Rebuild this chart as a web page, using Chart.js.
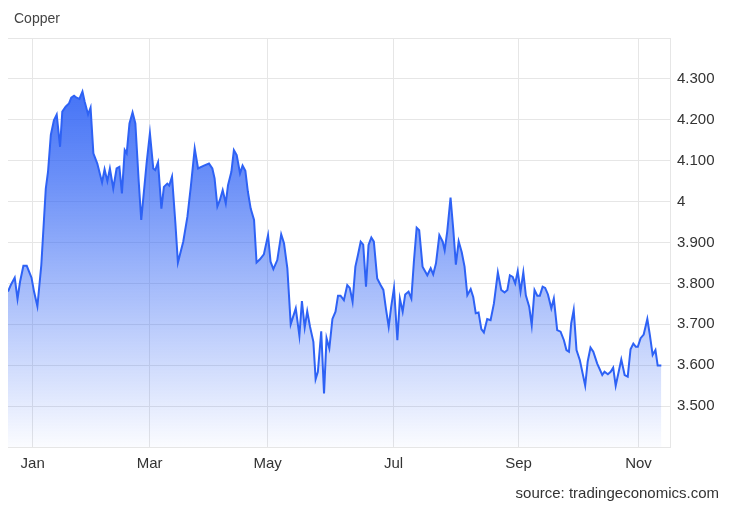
<!DOCTYPE html>
<html>
<head>
<meta charset="utf-8">
<title>Copper</title>
<script src="https://cdn.jsdelivr.net/npm/chart.js@4"></script>
<style>
  html, body { margin: 0; padding: 0; background: #fff; }
  #wrap { width: 730px; height: 506px; }
</style>
</head>
<body>
<div id="wrap"><canvas id="chart" width="730" height="506"></canvas></div>
<script>
// Copper price, trading days since mid-December (x) and USD/lb (y)
const days = [
  0.0, 1.0, 2.4, 3.4, 4.3, 5.5, 6.7, 8.4, 9.3, 10.5,
  11.9, 13.5, 14.3, 15.3, 16.4, 17.4, 18.6, 19.4, 20.6, 21.8,
  22.6, 23.6, 24.5, 25.5, 26.6, 27.4, 28.6, 29.5, 30.5, 31.9,
  33.6, 34.5, 35.5, 36.4, 37.6, 38.8, 39.8, 40.7, 41.7, 42.4,
  43.4, 44.5, 45.5, 46.7, 47.6, 49.5, 50.7, 51.9, 52.6, 53.6,
  54.8, 55.7, 56.9, 57.6, 58.6, 59.8, 60.7, 62.6, 64.1, 65.3,
  66.7, 67.9, 70.0, 71.8, 73.0, 73.8, 74.8, 75.7, 76.7, 77.8,
  78.6, 79.8, 80.7, 81.7, 82.9, 83.8, 84.8, 85.7, 86.7, 87.9,
  88.8, 90.0, 91.4, 92.9, 93.8, 94.8, 96.2, 97.6, 98.6, 99.8,
  101.0, 102.8, 104.1, 105.0, 106.0, 106.9, 107.9, 109.1, 109.9, 110.7,
  111.9, 112.9, 113.8, 114.8, 115.9, 117.0, 117.9, 118.8, 120.0, 121.2,
  122.1, 123.1, 124.1, 125.0, 126.0, 126.9, 127.9, 128.8, 129.8, 130.7,
  131.9, 133.1, 134.1, 135.0, 136.0, 136.9, 137.9, 139.1, 140.0, 141.0,
  141.9, 143.1, 144.1, 145.0, 146.0, 146.9, 148.1, 149.8, 151.0, 151.9,
  152.9, 154.1, 155.3, 156.0, 156.9, 158.1, 159.1, 160.0, 161.0, 162.1,
  163.1, 164.1, 165.3, 166.2, 167.1, 168.1, 169.1, 170.0, 171.2, 172.4,
  173.6, 175.0, 176.2, 177.4, 178.4, 179.3, 180.3, 181.2, 182.1, 183.1,
  184.1, 185.0, 186.2, 187.1, 188.1, 189.1, 190.0, 191.0, 191.9, 192.9,
  194.1, 195.0, 196.2, 197.4, 198.6, 199.5, 200.4, 201.2, 202.1, 203.1,
  204.3, 206.2, 207.1, 208.1, 209.1, 210.5, 212.3, 213.1, 214.3, 215.3,
  216.2, 217.1, 219.1, 220.3, 221.4, 222.4, 223.4, 224.3, 225.0, 226.0,
  227.1, 228.4, 229.3, 230.3, 231.3, 232.1, 233.4
];

const prices = [
  3.780, 3.796, 3.814, 3.762, 3.804, 3.843, 3.843, 3.814, 3.780, 3.744,
  3.845, 4.032, 4.073, 4.163, 4.199, 4.213, 4.134, 4.220, 4.232, 4.240,
  4.254, 4.259, 4.254, 4.251, 4.269, 4.244, 4.213, 4.230, 4.118, 4.093,
  4.047, 4.079, 4.050, 4.081, 4.032, 4.081, 4.085, 4.020, 4.126, 4.118,
  4.191, 4.218, 4.191, 4.049, 3.955, 4.093, 4.167, 4.081, 4.077, 4.096,
  3.983, 4.036, 4.044, 4.039, 4.061, 3.947, 3.851, 3.902, 3.963, 4.036,
  4.130, 4.081, 4.088, 4.093, 4.081, 4.057, 3.988, 4.004, 4.028, 3.996,
  4.040, 4.073, 4.126, 4.114, 4.069, 4.088, 4.075, 4.024, 3.983, 3.955,
  3.851, 3.859, 3.871, 3.918, 3.853, 3.835, 3.857, 3.920, 3.898, 3.837,
  3.700, 3.739, 3.672, 3.757, 3.692, 3.732, 3.694, 3.657, 3.566, 3.584,
  3.683, 3.531, 3.666, 3.641, 3.713, 3.731, 3.770, 3.770, 3.759, 3.796,
  3.789, 3.755, 3.841, 3.869, 3.902, 3.895, 3.792, 3.894, 3.912, 3.902,
  3.812, 3.796, 3.784, 3.739, 3.694, 3.743, 3.789, 3.661, 3.763, 3.731,
  3.773, 3.780, 3.763, 3.853, 3.936, 3.930, 3.841, 3.820, 3.837, 3.822,
  3.849, 3.918, 3.902, 3.881, 3.926, 4.010, 3.930, 3.846, 3.903, 3.876,
  3.841, 3.771, 3.786, 3.767, 3.727, 3.729, 3.688, 3.680, 3.713, 3.710,
  3.751, 3.827, 3.784, 3.778, 3.784, 3.820, 3.816, 3.800, 3.830, 3.780,
  3.827, 3.771, 3.743, 3.698, 3.784, 3.770, 3.770, 3.792, 3.789, 3.773,
  3.739, 3.763, 3.686, 3.682, 3.661, 3.637, 3.633, 3.702, 3.735, 3.637,
  3.612, 3.550, 3.609, 3.643, 3.633, 3.604, 3.576, 3.584, 3.578, 3.584,
  3.594, 3.550, 3.614, 3.576, 3.572, 3.639, 3.653, 3.645, 3.645, 3.666,
  3.675, 3.713, 3.674, 3.625, 3.637, 3.599, 3.599
];

// where each labelled month starts, in the same trading-day units
const monthPos = [8.8, 50.6, 92.75, 137.75, 182.4, 225.25];
const monthLabels = ['Jan', 'Mar', 'May', 'Jul', 'Sep', 'Nov'];

const yMin = 3.4, yMax = 4.4, yStep = 0.1;

const FONT = "'Liberation Sans', Arial, sans-serif";
const GRID = '#e6e6e6';

// titel oben links, quelle unten rechts
const textPlugin = {
  id: 'texts',
  afterDraw(chart) {
    const ctx = chart.ctx;
    ctx.save();
    ctx.textBaseline = 'middle';
    ctx.font = '14px ' + FONT;
    ctx.fillStyle = '#444';
    ctx.textAlign = 'left';
    ctx.fillText('Copper', 14, 19);
    ctx.font = '15px ' + FONT;
    ctx.fillStyle = '#333';
    ctx.textAlign = 'right';
    ctx.fillText('source: tradingeconomics.com', 719, 494);
    ctx.restore();
  }
};

function areaGradient(context) {
  const area = context.chart.chartArea;
  if (!area) return 'rgba(46,98,245,0.5)';
  const g = context.chart.ctx.createLinearGradient(0, area.top, 0, area.bottom);
  g.addColorStop(0, 'rgba(46,98,245,1)');
  g.addColorStop(0.35, 'rgba(46,98,245,0.7)');
  g.addColorStop(1, 'rgba(46,98,245,0.02)');
  return g;
}

new Chart(document.getElementById('chart'), {
  type: 'line',
  data: {
    datasets: [{
      label: 'Copper',
      data: days.map((d, i) => ({ x: d, y: prices[i] })),
      borderColor: '#2e62f5',
      borderWidth: 2,
      backgroundColor: areaGradient,
      fill: 'start',
      pointRadius: 0,
      tension: 0
    }]
  },
  options: {
    responsive: false,
    animation: false,
    layout: { padding: { top: 38, left: 8, right: 0, bottom: 0 } },
    plugins: {
      legend: { display: false },
      tooltip: { enabled: false },
      title: { display: false }
    },
    scales: {
      x: {
        type: 'linear',
        min: 0,
        max: 236.5,
        afterBuildTicks(scale) {
          scale.ticks = monthPos.map(v => ({ value: v }));
        },
        afterFit(scale) { scale.height = 59; },
        grid: { color: GRID, drawTicks: false },
        border: { color: GRID },
        ticks: {
          autoSkip: false,
          maxRotation: 0,
          padding: 8,
          color: '#333',
          font: { family: FONT, size: 15 },
          callback(value) {
            const i = monthPos.indexOf(value);
            return i >= 0 ? monthLabels[i] : '';
          }
        }
      },
      y: {
        position: 'right',
        min: yMin,
        max: yMax,
        afterFit(scale) { scale.width = 60; },
        grid: { color: GRID, drawTicks: false },
        border: { color: GRID },
        ticks: {
          stepSize: yStep,
          padding: 7,
          color: '#333',
          font: { family: FONT, size: 15 },
          callback(value) {
            const v = Math.round(value * 1000) / 1000;
            if (v <= yMin || v >= yMax) return '';
            return Number.isInteger(v) ? String(v) : v.toFixed(3);
          }
        }
      }
    }
  },
  plugins: [textPlugin]
});
</script>
</body>
</html>
